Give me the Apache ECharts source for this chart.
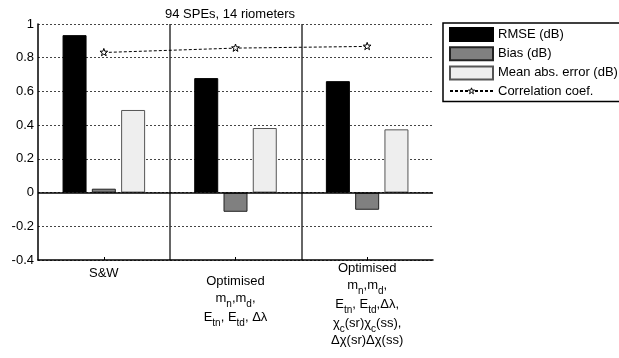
<!DOCTYPE html>
<html>
<head>
<meta charset="utf-8">
<script src="https://cdn.jsdelivr.net/npm/echarts@6/dist/echarts.min.js"></script>
<style>
html,body{margin:0;padding:0;background:#fff;}
#chart{width:619px;height:358px;}
</style>
</head>
<body>
<div id="chart"></div>
<script>
// ---- data ----
var categories = [
  '{n|S&W}',
  '{n|Optimised}\n{n|m}{s|n}{n|,m}{s|d}{n|,}\n{n|E}{s|tn}{n|, E}{s|td}{n|, Δλ}',
  '{n|Optimised}\n{n|m}{s|n}{n|,m}{s|d}{n|,}\n{n|E}{s|tn}{n|, E}{s|td}{n|,Δλ,}\n{n|χ}{s|c}{n|(sr)χ}{s|c}{n|(ss),}\n{n|Δχ(sr)Δχ(ss)}'
];
var labelOffsets = [5, 13, 0];
var rmse = [0.934, 0.679, 0.661];
var bias = [0.023, -0.114, -0.102];
var mae = [0.490, 0.383, 0.375];
var corr = [0.831, 0.857, 0.867];
var seriesNames = ['RMSE (dB)', 'Bias (dB)', 'Mean abs. error (dB)', 'Correlation coef.'];
var titleText = '94 SPEs, 14 riometers';

var FONT = '"Liberation Sans", Arial, sans-serif';
// star path with extra empty margin so the drawn star is ~60% of the symbol box
var STAR = 'path://M-16,-16 M16,16 M0,-10 L2.35,-3.24 9.51,-3.09 3.8,1.24 5.88,8.09 0,4 -5.88,8.09 -3.8,1.24 -9.51,-3.09 -2.35,-3.24 Z';

var catData = categories.map(function (c, i) {
  return { value: c, textStyle: { padding: [labelOffsets[i], 0, 0, 0] } };
});

var chart = echarts.init(document.getElementById('chart'), null, { renderer: 'canvas' });
chart.setOption({
  backgroundColor: '#fff',
  animation: false,
  textStyle: { fontFamily: FONT },
  title: {
    text: titleText,
    left: 165, top: 8, padding: 0,
    textStyle: { fontSize: 13, fontWeight: 'normal', color: '#000', fontFamily: FONT }
  },
  legend: {
    orient: 'vertical',
    left: 443, top: 23,
    padding: [4, 30, 4, 6],
    itemGap: 4.2,
    itemWidth: 43, itemHeight: 13,
    borderColor: '#000', borderWidth: 1.5,
    backgroundColor: '#fff',
    textStyle: { fontSize: 13, color: '#000', fontFamily: FONT },
    data: [
      { name: seriesNames[0], icon: 'rect' },
      { name: seriesNames[1], icon: 'rect' },
      { name: seriesNames[2], icon: 'rect' },
      { name: seriesNames[3], itemStyle: { color: '#fff', borderColor: '#000', borderWidth: 1 } }
    ]
  },
  grid: { left: 38, top: 24, right: 186, bottom: 98 },
  xAxis: {
    type: 'category',
    data: catData,
    axisLine: { show: true, onZero: false, lineStyle: { color: '#000', width: 1.5 } },
    axisTick: { show: true, inside: true, alignWithLabel: true, length: 3, lineStyle: { color: '#000' } },
    splitLine: { show: true, showMinLine: false, showMaxLine: false, lineStyle: { color: '#333', width: 1.5, type: 'solid' } },
    axisLabel: {
      interval: 0, margin: 1, color: '#000', fontFamily: FONT,
      rich: {
        n: { fontSize: 13, lineHeight: 15, color: '#000', fontFamily: FONT },
        s: { fontSize: 10, lineHeight: 19, padding: [11, 0, 0, 0], color: '#000', fontFamily: FONT }
      }
    }
  },
  yAxis: {
    type: 'value',
    min: -0.4, max: 1, interval: 0.2,
    axisLine: { show: true, lineStyle: { color: '#000', width: 1.5 } },
    axisTick: { show: false },
    axisLabel: { fontSize: 13, color: '#000', margin: 4, fontFamily: FONT },
    splitLine: { show: true, lineStyle: { color: '#444', width: 1, type: [2, 2] } }
  },
  series: [
    {
      name: seriesNames[0], type: 'bar', data: rmse,
      barWidth: 24, barGap: '22%',
      itemStyle: { color: '#000', borderColor: '#000', borderWidth: 1 },
      markLine: {
        silent: true, symbol: 'none', label: { show: false },
        lineStyle: { color: '#000', width: 1.5, type: 'solid' },
        data: [{ yAxis: 0 }]
      }
    },
    {
      name: seriesNames[1], type: 'bar', data: bias,
      barWidth: 24, barGap: '22%',
      itemStyle: { color: '#808080', borderColor: '#222', borderWidth: 1 }
    },
    {
      name: seriesNames[2], type: 'bar', data: mae,
      barWidth: 24, barGap: '22%',
      itemStyle: { color: '#eeeeee', borderColor: '#555', borderWidth: 1 }
    },
    {
      name: seriesNames[3], type: 'line', data: corr,
      symbol: STAR, symbolSize: 13,
      lineStyle: { color: '#000', width: 1, type: [3, 2] },
      itemStyle: { color: '#fff', borderColor: '#000', borderWidth: 1 },
      z: 5
    }
  ]
});
</script>
</body>
</html>
